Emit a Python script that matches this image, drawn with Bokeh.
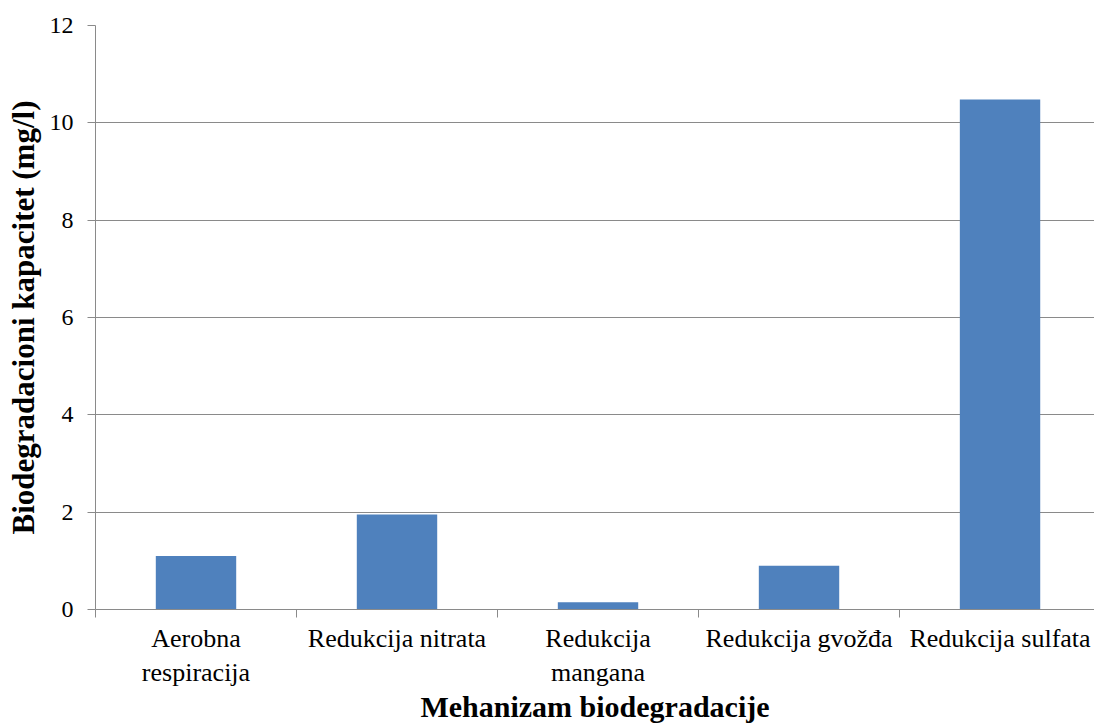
from bokeh.plotting import figure
from bokeh.models import Range1d, FixedTicker
from bokeh.embed import file_html
from bokeh.resources import INLINE

categories = ["Aerobna\nrespiracija", "Redukcija nitrata", "Redukcija\nmangana",
              "Redukcija gvožđa", "Redukcija sulfata"]
values = [1.1, 1.95, 0.15, 0.9, 10.48]
y_ticks = [0, 2, 4, 6, 8, 10, 12]
x_title = "Mehanizam biodegradacije"
y_title = "Biodegradacioni kapacitet (mg/l)"

FONT = "Liberation Serif"
GRAY = "#8a8a8a"
BAR = "#4F81BD"

centers = [i + 0.5 for i in range(len(categories))]
bounds = [i for i in range(len(categories) + 1)]

p = figure(width=1094, height=727, output_backend="svg", toolbar_location=None,
           x_range=Range1d(0, 4.97), y_range=Range1d(0, 12),
           min_border_left=95, min_border_top=25, min_border_right=0, min_border_bottom=118)
p.outline_line_color = None
p.background_fill_color = "white"

p.vbar(x=centers, top=values, width=0.4, bottom=0, fill_color=BAR, line_color=None)

# y axis
p.yaxis.ticker = FixedTicker(ticks=y_ticks, minor_ticks=[])
p.yaxis.axis_line_color = GRAY
p.yaxis.major_tick_line_color = GRAY
p.yaxis.major_tick_out = 8
p.yaxis.major_tick_in = 0
p.yaxis.minor_tick_line_color = None
p.yaxis.major_label_text_font = FONT
p.yaxis.major_label_text_font_size = "24px"
p.yaxis.major_label_text_color = "black"
p.yaxis.major_label_standoff = 14
p.yaxis.axis_label = y_title
p.yaxis.axis_label_text_font = FONT
p.yaxis.axis_label_text_font_style = "bold"
p.yaxis.axis_label_text_font_size = "31px"
p.yaxis.axis_label_text_color = "black"
p.yaxis.axis_label_standoff = 6

# x axis
p.xaxis.ticker = FixedTicker(ticks=centers, minor_ticks=bounds)
p.xaxis.major_label_overrides = {c: lab for c, lab in zip(centers, categories)}
p.xaxis.axis_line_color = GRAY
p.xaxis.major_tick_line_color = None
p.xaxis.minor_tick_line_color = GRAY
p.xaxis.minor_tick_out = 8
p.xaxis.minor_tick_in = 0
p.xaxis.major_tick_out = 8
p.xaxis.major_label_text_font = FONT
p.xaxis.major_label_text_font_size = "26px"
p.xaxis.major_label_text_color = "black"
p.xaxis.major_label_standoff = 6
p.xaxis.axis_label = x_title
p.xaxis.axis_label_text_font = FONT
p.xaxis.axis_label_text_font_style = "bold"
p.xaxis.axis_label_text_font_size = "30px"
p.xaxis.axis_label_text_color = "black"
p.xaxis.axis_label_standoff = 0

p.xgrid.grid_line_color = None
p.ygrid.ticker = FixedTicker(ticks=y_ticks)
p.ygrid.grid_line_color = GRAY
p.ygrid.grid_line_width = 1

open("out.html", "w").write(file_html(p, INLINE))
